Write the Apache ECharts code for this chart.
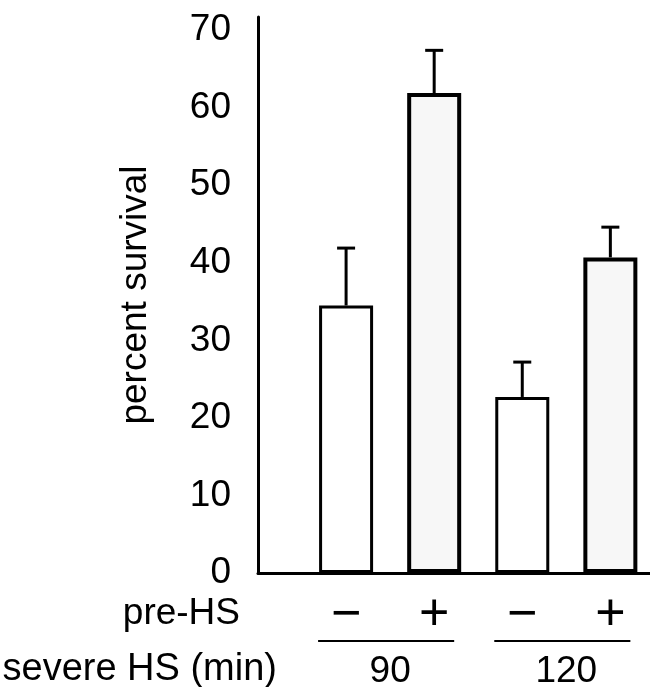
<!DOCTYPE html>
<html>
<head>
<meta charset="utf-8">
<style>
  html, body { margin: 0; padding: 0; background: #fff; }
  #chart { width: 650px; height: 687px; }
</style>
<script src="https://cdn.jsdelivr.net/npm/echarts@6/dist/echarts.min.js"></script>
</head>
<body>
<div id="chart"></div>
<script>
// 数据
const preHS = ['−', '+', '−', '+'];
const severeHS = ['90', '120'];
const survival = [34.5, 61.9, 22.7, 40.7];
const errorTop = [41.9, 67.4, 27.2, 44.6];
const yTicks = [0, 10, 20, 30, 40, 50, 60, 70];

const font = 'Liberation Sans, Arial, Helvetica, sans-serif';

(function () {
  const myChart = echarts.init(document.getElementById('chart'));

  const barData = survival.map((v, i) => ({
    value: [i + 1, v],
    itemStyle: {
      color: preHS[i] === '+' ? '#f7f7f7' : '#fff',
      borderColor: '#000',
      borderWidth: preHS[i] === '+' ? 4 : 3
    }
  }));
  const errData = survival.map((v, i) => [i + 1, v, errorTop[i]]);
  // 每组的起止位置
  const groupData = severeHS.map((s, k) => [2 * k + 1, 2 * k + 2]);

  const option = {
    animation: false,
    backgroundColor: '#fff',
    grid: {
      left: 258,
      right: 0,
      top: 17,
      bottom: 114
    },
    graphic: [
      {
        type: 'text',
        right: 410,
        top: 595,
        style: { text: 'pre-HS', font: '37px ' + font, fill: '#000' }
      },
      {
        type: 'text',
        right: 373,
        top: 651,
        style: { text: 'severe HS (min)', font: '38px ' + font, fill: '#000' }
      }
    ],
    xAxis: {
      type: 'value',
      min: 0,
      max: 4.45,
      interval: 1,
      axisLine: { show: true, lineStyle: { color: '#000', width: 3 } },
      axisTick: { show: false },
      splitLine: { show: false },
      axisLabel: {
        color: '#000',
        fontSize: 52,
        fontFamily: font,
        margin: 17,
        showMaxLabel: false,
        formatter: (v) => preHS[v - 1] || ''
      }
    },
    yAxis: {
      type: 'value',
      min: yTicks[0],
      max: 71.7,
      interval: 10,
      name: 'percent survival',
      nameLocation: 'middle',
      nameGap: 104,
      nameTextStyle: { color: '#000', fontSize: 37, fontFamily: font },
      axisLine: { show: true, lineStyle: { color: '#000', width: 3 } },
      axisTick: { show: false },
      splitLine: { show: false },
      axisLabel: {
        color: '#000',
        fontSize: 37,
        fontFamily: font,
        margin: 27,
        showMaxLabel: false
      }
    },
    series: [
      {
        type: 'bar',
        barWidth: 54,
        data: barData,
        z: 2
      },
      {
        type: 'custom',
        z: 3,
        data: errData,
        renderItem: (params, api) => {
          const base = api.coord([api.value(0), api.value(1)]);
          const top = api.coord([api.value(0), api.value(2)]);
          const style = { stroke: '#000', lineWidth: 3 };
          return {
            type: 'group',
            children: [
              { type: 'line', shape: { x1: base[0], y1: base[1], x2: top[0], y2: top[1] }, style },
              { type: 'line', shape: { x1: top[0] - 9, y1: top[1], x2: top[0] + 9, y2: top[1] }, style }
            ]
          };
        }
      },
      {
        type: 'custom',
        silent: true,
        data: groupData,
        renderItem: (params, api) => {
          const a = api.coord([api.value(0), 0]);
          const b = api.coord([api.value(1), 0]);
          return {
            type: 'group',
            children: [
              {
                type: 'line',
                shape: { x1: a[0] - 28, y1: a[1] + 68, x2: b[0] + 20, y2: b[1] + 68 },
                style: { stroke: '#000', lineWidth: 2 }
              },
              {
                type: 'text',
                x: (a[0] + b[0]) / 2,
                y: a[1] + 99,
                style: {
                  text: severeHS[params.dataIndex],
                  font: '37px ' + font,
                  fill: '#000',
                  align: 'center',
                  verticalAlign: 'middle'
                }
              }
            ]
          };
        }
      }
    ]
  };
  myChart.setOption(option);

  window.addEventListener('resize', () => {
    myChart.resize();
  });
})();
</script>
</body>
</html>
